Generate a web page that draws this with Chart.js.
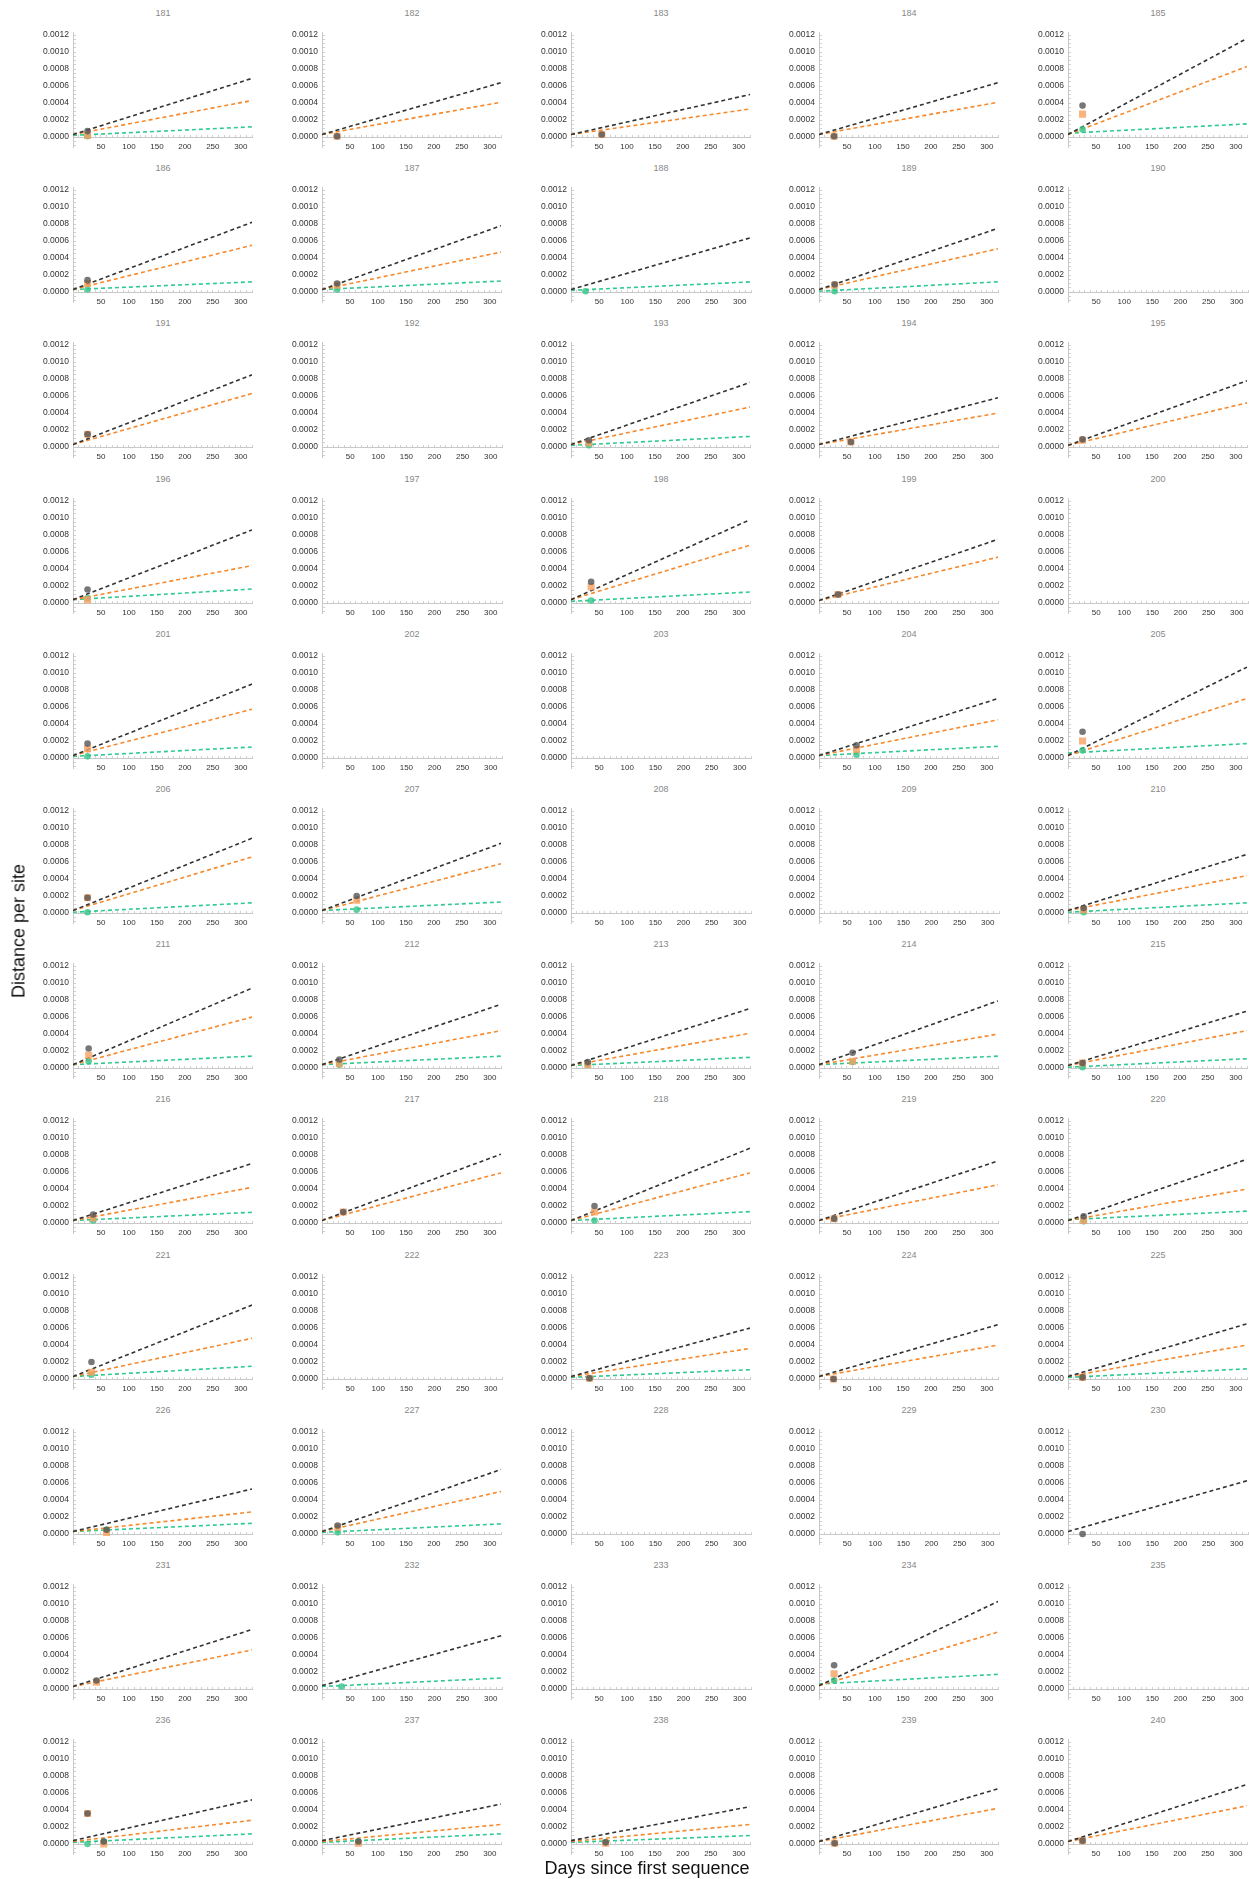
<!DOCTYPE html>
<html>
<head>
<meta charset="utf-8">
<script src="https://cdn.jsdelivr.net/npm/chart.js@4.4.1/dist/chart.umd.min.js"></script>
<style>
  body { margin: 0; background: #fff; font-family: "Liberation Sans", Arial, sans-serif; }
  #page { position: relative; width: 1249px; height: 1879px; overflow: hidden; }
  .panel-title { position: absolute; width: 180px; text-align: center; font-size: 9px; line-height: 12px; color: #888; }
  canvas { position: absolute; }
  .axis-label { position: absolute; font-size: 18px; color: #111; white-space: nowrap; }
</style>
</head>
<body>
<div id="page"></div>
<script>
// panel ids, 5 per row
const panelLabels = [
  181, 182, 183, 184, 185, 186, 187, 188, 189, 190,
  191, 192, 193, 194, 195, 196, 197, 198, 199, 200,
  201, 202, 203, 204, 205, 206, 207, 208, 209, 210,
  211, 212, 213, 214, 215, 216, 217, 218, 219, 220,
  221, 222, 223, 224, 225, 226, 227, 228, 229, 230,
  231, 232, 233, 234, 235, 236, 237, 238, 239, 240
];

// fitted lines: [value at day 0, value at day 320], null = not drawn
const blackLine = [
  [3e-5, 6.9e-4], [3e-5, 6.4e-4], [3e-5, 5.0e-4], [3e-5, 6.4e-4], [3e-5, 1.16e-3],
  [3e-5, 8.2e-4], [3e-5, 7.8e-4], [3e-5, 6.4e-4], [3e-5, 7.5e-4], null,
  [3e-5, 8.5e-4], null, [3e-5, 7.6e-4], [3e-5, 5.8e-4], [2e-5, 7.8e-4],
  [4e-5, 8.6e-4], null, [4e-5, 9.8e-4], [3e-5, 7.5e-4], null,
  [3e-5, 8.7e-4], null, null, [3e-5, 7.0e-4], [3e-5, 1.07e-3],
  [3e-5, 8.8e-4], [3e-5, 8.2e-4], null, null, [3e-5, 6.9e-4],
  [4e-5, 9.4e-4], [4e-5, 7.5e-4], [3e-5, 7.0e-4], [4e-5, 7.9e-4], [3e-5, 6.7e-4],
  [3e-5, 7.0e-4], [3e-5, 8.1e-4], [3e-5, 8.8e-4], [3e-5, 7.3e-4], [3e-5, 7.5e-4],
  [3e-5, 8.7e-4], null, [3e-5, 6.0e-4], [3e-5, 6.4e-4], [3e-5, 6.5e-4],
  [3e-5, 5.3e-4], [3e-5, 7.6e-4], null, null, [3e-5, 6.3e-4],
  [3e-5, 7.0e-4], [4e-5, 6.3e-4], null, [4e-5, 1.03e-3], null,
  [4e-5, 5.2e-4], [4e-5, 4.7e-4], [4e-5, 4.4e-4], [3e-5, 6.5e-4], [3e-5, 7.0e-4]
];

const orangeLine = [
  [3e-5, 4.3e-4], [3e-5, 4.1e-4], [3e-5, 3.3e-4], [3e-5, 4.1e-4], [3e-5, 8.3e-4],
  [3e-5, 5.5e-4], [3e-5, 4.7e-4], null, [3e-5, 5.1e-4], null,
  [3e-5, 6.3e-4], null, [3e-5, 4.7e-4], [3e-5, 4.0e-4], [2e-5, 5.2e-4],
  [4e-5, 4.4e-4], null, [4e-5, 6.8e-4], [3e-5, 5.4e-4], null,
  [3e-5, 5.75e-4], null, null, [3e-5, 4.5e-4], [3e-5, 7.0e-4],
  [3e-5, 6.6e-4], [3e-5, 5.8e-4], null, null, [3e-5, 4.4e-4],
  [4e-5, 6.0e-4], [4e-5, 4.4e-4], [3e-5, 4.1e-4], [4e-5, 4.0e-4], [3e-5, 4.4e-4],
  [3e-5, 4.2e-4], [3e-5, 5.9e-4], [3e-5, 5.9e-4], [3e-5, 4.5e-4], [3e-5, 4.0e-4],
  [3e-5, 4.8e-4], null, [3e-5, 3.6e-4], [3e-5, 4.0e-4], [3e-5, 4.0e-4],
  [3e-5, 2.6e-4], [3e-5, 5.0e-4], null, null, null,
  [3e-5, 4.6e-4], null, null, [4e-5, 6.7e-4], null,
  [3e-5, 2.8e-4], [3e-5, 2.3e-4], [3e-5, 2.3e-4], [3e-5, 4.2e-4], [3e-5, 4.5e-4]
];

const greenLine = [
  [2e-5, 1.2e-4], null, null, null, [4.5e-5, 1.55e-4],
  [3e-5, 1.2e-4], [3e-5, 1.3e-4], [2e-5, 1.2e-4], [1e-5, 1.2e-4], null,
  null, null, [2e-5, 1.25e-4], null, null,
  [4e-5, 1.65e-4], null, [2e-5, 1.3e-4], null, null,
  [2e-5, 1.3e-4], null, null, [3e-5, 1.38e-4], [6e-5, 1.7e-4],
  [1e-5, 1.2e-4], [3e-5, 1.3e-4], null, null, [1e-5, 1.2e-4],
  [4e-5, 1.4e-4], [4e-5, 1.4e-4], [3e-5, 1.26e-4], [4e-5, 1.4e-4], [1e-5, 1.1e-4],
  [3e-5, 1.26e-4], null, [3e-5, 1.34e-4], null, [4e-5, 1.4e-4],
  [3e-5, 1.5e-4], null, [2e-5, 1.1e-4], null, [2e-5, 1.2e-4],
  [3e-5, 1.26e-4], [2e-5, 1.2e-4], null, null, null,
  null, [3e-5, 1.3e-4], null, [6e-5, 1.73e-4], null,
  [2e-5, 1.2e-4], [2e-5, 1.2e-4], [2e-5, 1.0e-4], null, null
];

// sampled days per panel and the observed distances at those days
const sampleDays = [
  [26], [27], [55], [27], [26],
  [26], [27], [26], [28], [],
  [26], [], [32], [57], [26],
  [26], [], [36], [34], [],
  [26], [], [], [67], [26],
  [26], [62], [], [], [28],
  [28], [31], [30], [60], [26],
  [36], [38], [42], [27], [28],
  [33], [], [33], [26], [26],
  [60], [28], [], [], [26],
  [42], [35], [], [27], [],
  [26, 55], [65], [62], [28], [26]
];

const grayPoints = [
  [7e-5], [1e-5], [3e-5], [1e-5], [3.7e-4],
  [1.4e-4], [1.0e-4], [null], [9e-5], [],
  [1.5e-4], [], [8e-5], [6e-5], [9e-5],
  [1.6e-4], [], [2.5e-4], [1.0e-4], [],
  [1.7e-4], [], [], [1.5e-4], [3.1e-4],
  [1.8e-4], [2.0e-4], [], [], [6e-5],
  [2.3e-4], [1.0e-4], [7e-5], [1.8e-4], [6e-5],
  [1.0e-4], [1.3e-4], [2.0e-4], [5e-5], [8e-5],
  [2.0e-4], [], [1e-5], [0], [2e-5],
  [5e-5], [1.0e-4], [], [], [0],
  [1.0e-4], [null], [], [2.8e-4], [],
  [3.6e-4, 3e-5], [3e-5], [2e-5], [1e-5], [4e-5]
];

const orangePoints = [
  [2e-5], [1e-5], [3e-5], [1e-5], [2.7e-4],
  [1.0e-4], [8e-5], [null], [8e-5], [],
  [1.5e-4], [], [5e-5], [6e-5], [8e-5],
  [4e-5], [], [1.9e-4], [1.0e-4], [],
  [1.1e-4], [], [], [1.0e-4], [2.0e-4],
  [1.8e-4], [1.5e-4], [], [], [4e-5],
  [1.5e-4], [5e-5], [4e-5], [8e-5], [6e-5],
  [6e-5], [1.3e-4], [1.3e-4], [5e-5], [3e-5],
  [8e-5], [], [1e-5], [0], [2e-5],
  [2e-5], [8e-5], [], [], [null],
  [8e-5], [null], [], [1.8e-4], [],
  [3.6e-4, 0], [1e-5], [1e-5], [1e-5], [4e-5]
];

const greenPoints = [
  [1e-5], [null], [null], [null], [9e-5],
  [3e-5], [3e-5], [1e-5], [1e-5], [],
  [null], [], [2e-5], [null], [null],
  [6e-5], [], [3e-5], [null], [],
  [2e-5], [], [], [4e-5], [9e-5],
  [1e-5], [4e-5], [], [], [1e-5],
  [8e-5], [4e-5], [4e-5], [7e-5], [1e-5],
  [3e-5], [null], [3e-5], [null], [2e-5],
  [5e-5], [], [1e-5], [null], [2e-5],
  [5e-5], [2e-5], [], [], [null],
  [null], [3e-5], [], [1.0e-4], [],
  [0, 3e-5], [3e-5], [2e-5], [null], [null]
];

const yTickLabels = [0, 0.0002, 0.0004, 0.0006, 0.0008, 0.0010, 0.0012];
const xTickLabels = [50, 100, 150, 200, 250, 300];

// layout
const COLS = 5;
const AXIS_X0 = 73, COL_STEP = 248.75, ROW_STEP = 155.2;
const Y_AXIS_W = 50, PLOT_W = 180, CANVAS_H = 154;

Chart.defaults.font.family = '"Liberation Sans", Arial, sans-serif';
Chart.defaults.animation = false;

// minor tick positions (labels only on the major ones)
const yMinor = [];
for (let i = -2; i <= 24; i++) yMinor.push(+(i * 0.00005).toFixed(5));
const xMinor = [];
for (let d = 10; d <= 320; d += 10) xMinor.push(d);

function linePts(pair) {
  return [{ x: 0, y: pair[0] }, { x: 320, y: pair[1] }];
}
function markerPts(days, vals) {
  const out = [];
  days.forEach((d, i) => { if (vals[i] !== null && vals[i] !== undefined) out.push({ x: d, y: vals[i] }); });
  return out;
}

const page = document.getElementById('page');

panelLabels.forEach((label, i) => {
  const c = i % COLS, r = Math.floor(i / COLS);
  const axisX = Math.round(AXIS_X0 + COL_STEP * c);
  const top = Math.round(ROW_STEP * r);

  const title = document.createElement('div');
  title.className = 'panel-title';
  title.textContent = label;
  title.style.left = axisX + 'px';
  title.style.top = (top + 7) + 'px';
  page.appendChild(title);

  const cv = document.createElement('canvas');
  cv.width = Y_AXIS_W + PLOT_W + 4;
  cv.height = CANVAS_H;
  cv.style.left = (axisX - Y_AXIS_W) + 'px';
  cv.style.top = top + 'px';
  cv.style.width = cv.width + 'px';
  cv.style.height = cv.height + 'px';
  page.appendChild(cv);

  const datasets = [];
  const dash = { type: 'line', borderDash: [4, 3], borderWidth: 1.6, pointRadius: 0, fill: false, order: 2 };
  if (blackLine[i]) datasets.push({ ...dash, data: linePts(blackLine[i]), borderColor: '#333' });
  if (orangeLine[i]) datasets.push({ ...dash, data: linePts(orangeLine[i]), borderColor: '#f5892c' });
  if (greenLine[i]) datasets.push({ ...dash, data: linePts(greenLine[i]), borderColor: '#2fca8f' });

  const days = sampleDays[i];
  datasets.push({ type: 'scatter', data: markerPts(days, grayPoints[i]), pointStyle: 'circle', pointRadius: 3.3,
    backgroundColor: 'rgba(85,85,85,0.8)', borderWidth: 0, order: 1 });
  datasets.push({ type: 'scatter', data: markerPts(days, orangePoints[i]), pointStyle: 'rect', pointRadius: 5,
    backgroundColor: 'rgba(246,160,95,0.8)', borderWidth: 0, order: 1 });
  datasets.push({ type: 'scatter', data: markerPts(days, greenPoints[i]), pointStyle: 'circle', pointRadius: 3.3,
    backgroundColor: 'rgba(52,196,138,0.8)', borderWidth: 0, order: 1 });

  new Chart(cv, {
    data: { datasets: datasets },
    options: {
      responsive: false,
      devicePixelRatio: 1,
      layout: { padding: { top: 32.5, bottom: 6.75, left: 0, right: 4 } },
      plugins: { legend: { display: false }, tooltip: { enabled: false } },
      scales: {
        x: {
          type: 'linear',
          min: 0,
          max: 320,
          position: { y: 0 },
          afterBuildTicks: (s) => { s.ticks = xMinor.map(v => ({ value: v })); },
          afterFit: (s) => { s.paddingLeft = 0; s.paddingRight = 0; },
          ticks: {
            autoSkip: false, maxRotation: 0, minRotation: 0, padding: 8,
            color: '#333', font: { size: 8 },
            callback: (v) => xTickLabels.includes(v) ? String(v) : ''
          },
          grid: { drawOnChartArea: false, tickLength: -3, color: '#d0d0d0' },
          border: { color: '#c8c8c8' }
        },
        y: {
          type: 'linear',
          min: -0.00012,
          max: 0.00123,
          // fixed gutter, and no extra inset from the label overhang
          afterFit: (s) => { s.width = Y_AXIS_W; s.paddingTop = 0; s.paddingBottom = 0; },
          afterBuildTicks: (s) => { s.ticks = yMinor.map(v => ({ value: v })); },
          ticks: {
            autoSkip: false, padding: 7, color: '#333', font: { size: 8.5 },
            callback: (v) => {
              const hit = yTickLabels.find(t => Math.abs(t - v) < 1e-9);
              return hit === undefined ? '' : hit.toFixed(4);
            }
          },
          grid: { drawOnChartArea: false, tickLength: -3, color: '#d0d0d0' },
          border: { color: '#c8c8c8' }
        }
      }
    }
  });
});

// shared axis titles
const yl = document.createElement('div');
yl.className = 'axis-label';
yl.textContent = 'Distance per site';
yl.style.left = '19px';
yl.style.top = '931px';
yl.style.transform = 'translate(-50%, -50%) rotate(-90deg)';
page.appendChild(yl);

const xl = document.createElement('div');
xl.className = 'axis-label';
xl.textContent = 'Days since first sequence';
xl.style.left = '647px';
xl.style.top = '1868px';
xl.style.transform = 'translate(-50%, -50%)';
page.appendChild(xl);
</script>
</body>
</html>
